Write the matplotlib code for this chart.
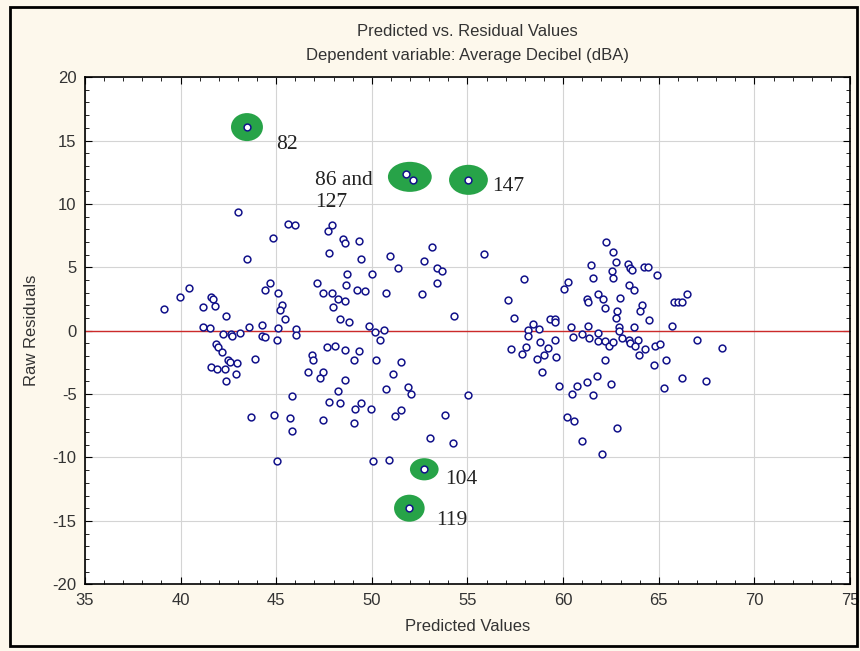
import matplotlib.pyplot as plt
from matplotlib.patches import Ellipse, Rectangle
from matplotlib.ticker import MultipleLocator
import numpy as np

plt.rcParams['axes.unicode_minus'] = False

# predicted values / raw residuals
pred = [43.00, 45.61, 46.00, 44.83, 43.46, 40.45, 39.95, 39.13, 41.60, 41.67,
        41.16, 41.82, 42.38, 44.69, 44.40, 45.11, 45.28, 45.18, 45.47, 41.16,
        41.53, 43.60, 44.25, 45.11, 46.05, 42.64, 42.71, 42.24, 43.09, 44.25,
        44.40, 45.04, 46.05, 41.86, 41.93, 42.15, 42.47, 42.57, 42.97, 43.89,
        41.60, 41.91, 42.31, 42.88, 42.38, 45.84, 43.68, 44.90, 45.70, 45.84,
        45.04, 47.92, 47.72, 48.48, 48.57, 49.35, 47.77, 49.42, 50.95, 51.37,
        52.74, 53.12, 53.43, 48.71, 50.03, 47.14, 48.65, 47.43, 47.92, 48.24,
        48.58, 47.99, 49.24, 49.66, 50.74, 52.60, 53.43, 48.31, 48.79, 49.87,
        50.65, 50.15, 50.43, 47.64, 48.08, 48.58, 49.35, 46.85, 46.91, 49.09,
        50.22, 51.52, 46.64, 47.42, 47.28, 48.58, 51.08, 50.74, 51.87, 52.04,
        48.22, 47.77, 48.31, 49.44, 49.14, 49.94, 51.54, 51.22, 47.42, 49.07,
        53.03, 50.08, 50.88, 55.85, 53.67, 57.94, 60.25, 60.07, 57.12, 54.32,
        57.43, 59.29, 59.55, 59.58, 58.42, 60.39, 58.17, 58.73, 58.17, 60.51,
        59.57, 58.79, 58.07, 57.27, 57.86, 59.21, 59.01, 58.63, 59.64, 58.87,
        59.79, 60.70, 60.44, 55.05, 53.82, 60.21, 60.57, 54.25, 62.24, 62.59,
        61.44, 62.75, 62.58, 62.59, 61.58, 63.39, 63.48, 63.60, 64.22, 64.43,
        64.90, 63.46, 63.70, 61.81, 62.11, 61.27, 61.30, 62.17, 62.96, 62.84,
        62.75, 64.12, 64.04, 64.47, 65.79, 66.00, 66.21, 66.49, 61.28, 62.94,
        63.69, 65.70, 60.99, 61.37, 61.81, 62.90, 61.83, 62.17, 62.38, 62.59,
        63.08, 63.42, 63.51, 63.89, 63.77, 64.26, 63.95, 64.82, 65.04, 66.99,
        68.29, 62.17, 65.39, 64.76, 61.76, 61.25, 62.51, 61.58, 66.21, 67.49,
        65.26, 62.84, 61.01, 62.02]
resid = [9.37, 8.43, 8.32, 7.32, 5.69, 3.40, 2.67, 1.70, 2.64, 2.49,
         1.90, 1.98, 1.14, 3.75, 3.22, 2.98, 2.01, 1.64, 0.93, 0.32,
         0.22, 0.32, 0.48, 0.24, 0.12, -0.28, -0.41, -0.28, -0.17, -0.39,
         -0.47, -0.70, -0.33, -1.02, -1.28, -1.70, -2.28, -2.49, -2.54, -2.22,
         -2.88, -2.99, -2.99, -3.43, -3.96, -5.17, -6.78, -6.67, -6.90, -7.91,
         -10.27, 8.35, 7.85, 7.24, 6.93, 7.11, 6.16, 5.69, 5.92, 4.93,
         5.48, 6.59, 4.93, 4.50, 4.50, 3.75, 3.64, 3.01, 3.01, 2.53,
         2.35, 1.90, 3.22, 3.12, 2.98, 2.88, 3.75, 0.93, 0.72, 0.40,
         0.06, -0.12, -0.73, -1.28, -1.18, -1.49, -1.57, -1.91, -2.33, -2.33,
         -2.33, -2.46, -3.23, -3.23, -3.75, -3.86, -3.43, -4.62, -4.41, -4.96,
         -4.73, -5.62, -5.72, -5.72, -6.17, -6.15, -6.25, -6.70, -7.01, -7.25,
         -8.43, -10.27, -10.19, 6.04, 4.72, 4.06, 3.87, 3.32, 2.43, 1.14,
         1.03, 0.91, 0.95, 0.69, 0.51, 0.32, 0.06, 0.12, -0.41, -0.49,
         -0.73, -0.91, -1.25, -1.46, -1.81, -1.38, -1.91, -2.22, -2.04, -3.23,
         -4.33, -4.33, -4.96, -5.07, -6.67, -6.78, -7.12, -8.88, 7.01, 6.24,
         5.17, 5.40, 4.74, 4.17, 4.17, 5.29, 4.98, 4.80, 5.03, 5.03,
         4.38, 3.64, 3.22, 2.88, 2.49, 2.49, 2.25, 1.80, 2.56, 1.59,
         1.03, 2.01, 1.56, 0.85, 2.25, 2.25, 2.25, 2.88, 0.40, 0.32,
         0.32, 0.40, -0.28, -0.59, -0.17, -0.02, -0.80, -0.80, -1.18, -0.91,
         -0.59, -0.70, -0.99, -0.70, -1.18, -1.46, -1.91, -1.18, -1.04, -0.70,
         -1.38, -2.33, -2.33, -2.70, -3.54, -4.06, -4.20, -5.07, -3.75, -3.96,
         -4.51, -7.69, -8.67, -9.72]

# outlying cases marked on the chart
case_ids = [82, 86, 127, 147, 104, 119]
case_pred = [43.47, 51.81, 52.16, 55.05, 52.74, 51.96]
case_resid = [16.06, 12.37, 11.90, 11.90, -10.93, -14.00]

# labels: text, case it belongs to, offset in points
labels = ['82', '86 and\n127', '147', '104', '119']
label_case = [82, 86, 147, 104, 119]
label_off = [(21, -12.5), (-66, -12.5), (17, -4.5), (15, -7.5), (19, -8.5)]

# highlight groups (cases inside one green blob) and blob size (data units)
groups = [[82], [86, 127], [147], [104], [119]]
blob_w = [1.67, 2.29, 2.03, 1.50, 1.60]
blob_h = [2.21, 2.37, 2.37, 1.75, 2.13]

navy = '#12128a'
green = '#27a348'

fig = plt.figure(figsize=(8.6, 6.51), dpi=100, facecolor='#fdf8ec')
ax = fig.add_axes([0.0988, 0.1025, 0.8896, 0.7790])
ax.set_facecolor('white')

fig.patches.append(Rectangle((10 / 860, 1 - 646 / 651), 847 / 860, 639 / 651,
                             transform=fig.transFigure, fill=False,
                             edgecolor='black', linewidth=2, zorder=0))

ax.axhline(0, color='#cc2a2a', linewidth=1.0, zorder=2)

for grp, w, h in zip(groups, blob_w, blob_h):
    idx = [case_ids.index(c) for c in grp]
    cx = np.mean([case_pred[i] for i in idx])
    cy = np.mean([case_resid[i] for i in idx])
    ax.add_patch(Ellipse((cx, cy), w, h, facecolor=green, edgecolor='none', zorder=3))

ax.scatter(pred, resid, s=24, facecolors='white', edgecolors=navy,
           linewidths=1.1, zorder=4)
ax.scatter(case_pred, case_resid, s=24, facecolors='white', edgecolors=navy,
           linewidths=1.1, zorder=5)

for txt, c, off in zip(labels, label_case, label_off):
    i = case_ids.index(c)
    ax.annotate(txt, xy=(case_pred[i], case_resid[i]), xytext=off,
                textcoords='offset points', ha='left', va='center',
                fontsize=15.5, family='Liberation Serif', linespacing=1.2,
                color='#222222', zorder=6)

ax.set_xlim(35, 75)
ax.set_ylim(-20, 20)
ax.xaxis.set_major_locator(MultipleLocator(5))
ax.yaxis.set_major_locator(MultipleLocator(5))
ax.xaxis.set_minor_locator(MultipleLocator(1))
ax.yaxis.set_minor_locator(MultipleLocator(1))
ax.grid(True, which='major', color='#d4d4d4', linewidth=0.8, zorder=1)
ax.set_axisbelow(True)
ax.tick_params(which='both', direction='in', top=True, right=True,
               labelsize=12, colors='black', pad=6)
ax.tick_params(which='major', length=5, width=0.8)
ax.tick_params(which='minor', length=3, width=0.6)
for lab in ax.get_xticklabels() + ax.get_yticklabels():
    lab.set_family('Liberation Sans')
    lab.set_color('#333333')
for sp in ax.spines.values():
    sp.set_linewidth(1.2)

ax.set_xlabel('Predicted Values', fontsize=12, family='Liberation Sans',
              color='#333333', labelpad=8)
ax.set_ylabel('Raw Residuals', fontsize=12, family='Liberation Sans',
              color='#333333', labelpad=10)

fig.text(0.5436, 0.952, 'Predicted vs. Residual Values', ha='center',
         va='center', fontsize=12, family='Liberation Sans', color='#333333')
fig.text(0.5436, 0.9155, 'Dependent variable: Average Decibel (dBA)', ha='center',
         va='center', fontsize=12, family='Liberation Sans', color='#333333')

fig.savefig('out.png', dpi=100, facecolor=fig.get_facecolor())
